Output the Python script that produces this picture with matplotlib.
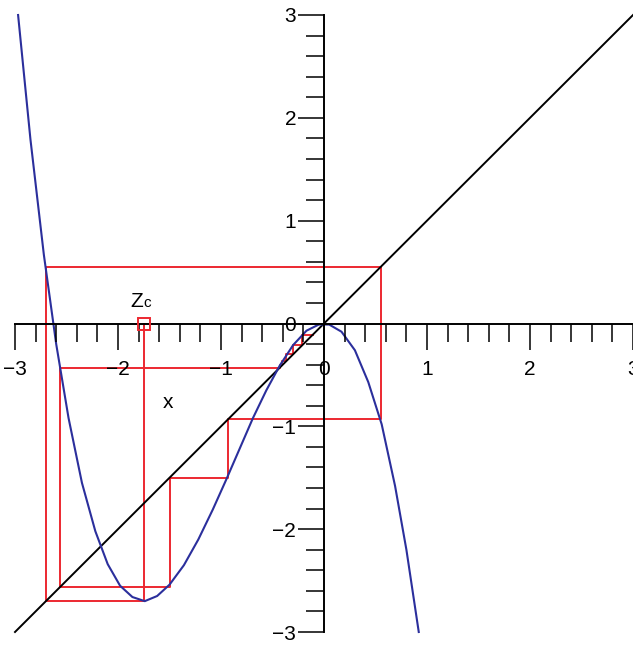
import numpy as np
import matplotlib.pyplot as plt
from matplotlib.ticker import MultipleLocator

# Curve samples
curve_x = [-2.97, -2.85, -2.72, -2.60, -2.48, -2.35, -2.22, -2.10, -1.98, -1.86,
           -1.74, -1.62, -1.50, -1.36, -1.22, -1.08, -0.95, -0.82, -0.69, -0.56,
           -0.43, -0.30, -0.17, -0.05, 0.05, 0.17, 0.30, 0.43, 0.56, 0.69, 0.80, 0.92]
curve_y = [3.00, 1.79, 0.67, -0.20, -0.92, -1.55, -2.02, -2.34, -2.55, -2.66,
           -2.70, -2.65, -2.54, -2.35, -2.10, -1.81, -1.52, -1.22, -0.92, -0.65,
           -0.41, -0.21, -0.07, -0.01, -0.01, -0.08, -0.26, -0.57, -0.98, -1.58, -2.20, -3.00]

# Diagonal y = x
diag_x = [-3, 3]
diag_y = [-3, 3]

# Cobweb vertices starting at the critical point Zc
web_x = [-1.75, -1.75, -2.70, -2.70, 0.55, 0.55, -0.93, -0.93, -1.50, -1.50,
         -2.56, -2.56, -0.43, -0.43, -0.405, -0.405, -0.365, -0.365, -0.30, -0.30,
         -0.21, -0.21, -0.11]
web_y = [0.0, -2.70, -2.70, 0.55, 0.55, -0.93, -0.93, -1.50, -1.50, -2.56,
         -2.56, -0.43, -0.43, -0.405, -0.405, -0.365, -0.365, -0.30, -0.30, -0.21,
         -0.21, -0.11, -0.11]

zc = (-1.75, 0.0)

BLUE = '#2b2f9c'
RED = '#ec2830'

plt.rcParams['font.family'] = ['Liberation Sans', 'DejaVu Sans']

fig = plt.figure(figsize=(6.33, 6.46), dpi=100)
ax = fig.add_axes([15/633, 14/646, 618/633, 617/646])
ax.set_axisbelow(False)

ax.plot(web_x, web_y, color=RED, lw=1.4, clip_on=False, zorder=2)
ax.plot(diag_x, diag_y, color='black', lw=1.4, clip_on=False, zorder=2.1)
ax.plot(curve_x, curve_y, color=BLUE, lw=1.5, clip_on=False, zorder=2.2)
ax.plot([zc[0]], [zc[1]], marker='s', ms=8.5, mfc='none', mec=RED, mew=1.4,
        clip_on=False, zorder=5)

ax.text(-1.755, 0.16, 'Z', fontsize=15, ha='right', va='baseline')
ax.text(-1.755, 0.16, 'c', fontsize=11, ha='left', va='baseline')
ax.text(-1.51, -0.77, 'x', fontsize=15, ha='center', va='center')

ax.set_xlim(-3, 3)
ax.set_ylim(-3, 3)

for s in ['top', 'right']:
    ax.spines[s].set_visible(False)
ax.spines['left'].set_position('zero')
ax.spines['bottom'].set_position('zero')
for s in ['left', 'bottom']:
    ax.spines[s].set_linewidth(1.4)

ax.xaxis.set_major_locator(MultipleLocator(1))
ax.yaxis.set_major_locator(MultipleLocator(1))
ax.xaxis.set_minor_locator(MultipleLocator(0.2))
ax.yaxis.set_minor_locator(MultipleLocator(0.2))
ax.tick_params(which='major', direction='out', length=19, width=1.1, labelsize=15)
ax.tick_params(which='minor', direction='out', length=13, width=1.1)
ax.tick_params(axis='x', which='major', pad=7)
ax.tick_params(axis='y', which='major', pad=1)
for lab in ax.get_xticklabels() + ax.get_yticklabels():
    lab.set_clip_on(False)

fig.savefig('out.png', dpi=100)
